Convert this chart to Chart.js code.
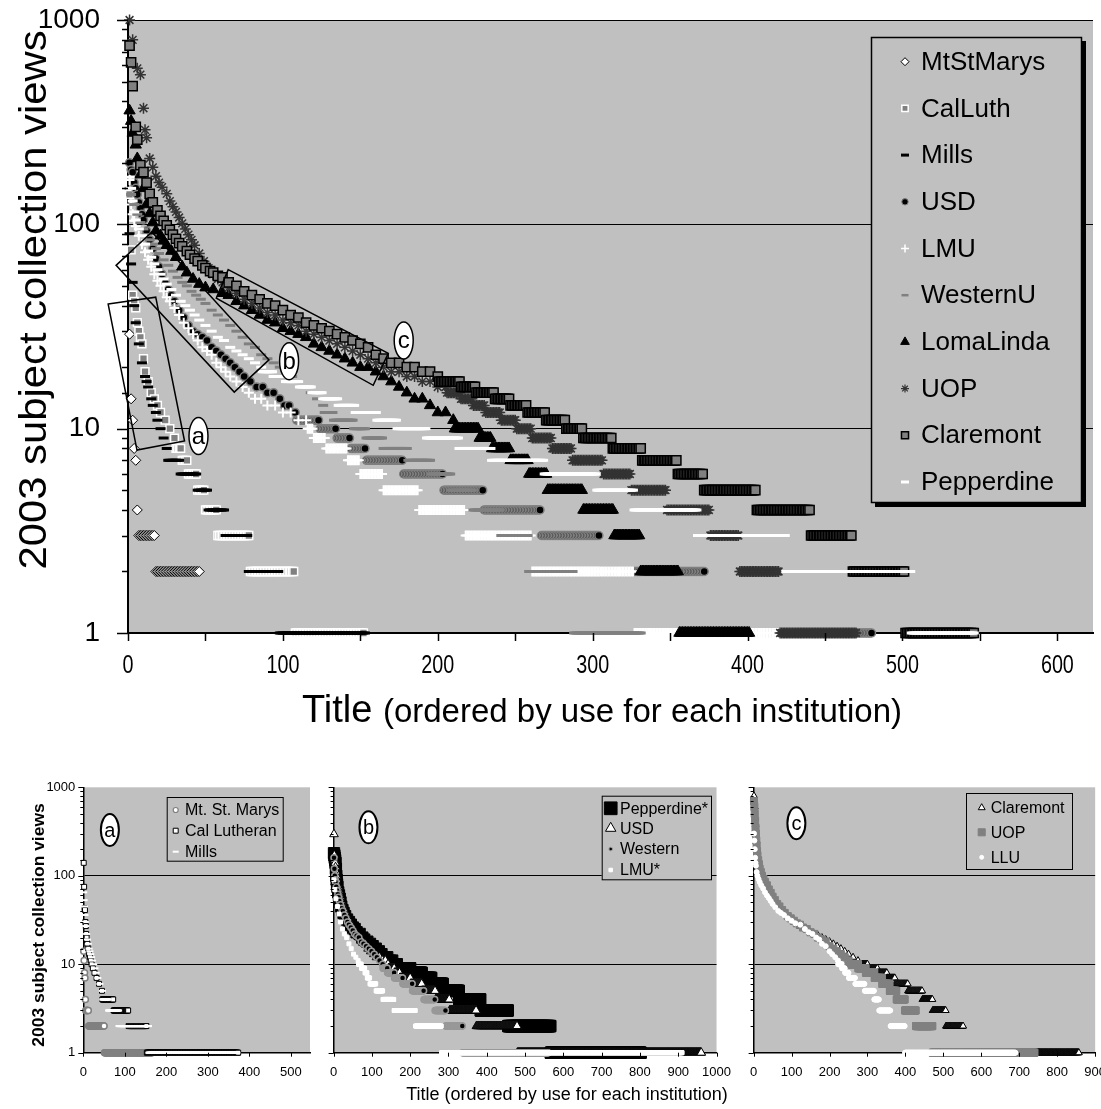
<!DOCTYPE html>
<html><head><meta charset="utf-8">
<script src="https://cdn.jsdelivr.net/npm/chart.js@4.4.1/dist/chart.umd.min.js"></script>
<style>
html,body{margin:0;padding:0;background:#fff;overflow:hidden;width:1101px;height:1109px;position:relative;}
canvas{position:absolute;}
</style></head><body>
<canvas id="main" width="1101" height="745" style="left:0;top:0"></canvas>
<canvas id="ca" width="320" height="349" style="left:0;top:760px"></canvas>
<canvas id="cb" width="425" height="349" style="left:318px;top:760px"></canvas>
<canvas id="cc" width="380" height="349" style="left:738px;top:760px"></canvas>
<script>
// ---------------- DATA (main chart) ----------------
// head: [rank, views] samples; runs: [views, last rank of that level]
const yTickLabels = [1, 10, 100, 1000];
const mainXLabels = [0, 100, 200, 300, 400, 500, 600];
const mainSeries = ['MtStMarys','CalLuth','Mills','USD','LMU','WesternU','LomaLinda','UOP','Claremont','Pepperdine'];

const mtStMarysHead = [[1,29],[2,14],[3,11],[4,8],[5,7],[6,4]];
const mtStMarysRuns = [[3,17],[2,46]];
const calLuthHead = [[1,140],[2,75],[3,45],[4,42],[5,39],[6,33],[7,30],[8,28],[9,26],[10,22],[11,19],[13,17],[15,15],[17,14],[19,13],[21,12],[24,11],[27,10],[30,9]];
const calLuthRuns = [[8,34],[7,38],[6,44],[5,49],[4,57],[3,78],[2,107],[1,152]];
const millsHead = [[1,90],[2,64],[3,52],[4,40],[5,33],[7,26],[9,21],[11,18],[12,17],[13,16],[15,14],[16,13],[18,12],[19,11],[21,10],[23,9],[25,8]];
const millsRuns = [[7,33],[6,44],[5,51],[4,62],[3,77],[2,97],[1,153]];
const usdHead = [[1,200],[2,185],[3,180],[4,160],[5,150],[6,140],[7,128],[8,120],[9,112],[10,105],[12,93],[14,84],[16,76],[18,68],[20,62],[22,57],[24,52],[26,48],[28,45],[30,42],[33,38],[36,35],[39,32],[42,30],[45,29],[48,28],[51,27],[54,25],[57,24],[60,23],[63,22],[66,21],[69,20],[72,19],[75,18],[79,17],[83,16],[87,16],[90,15],[94,15],[98,14],[101,13],[104,13],[108,12]];
const usdRuns = [[11,123],[10,134],[9,143],[8,153],[7,177],[6,203],[5,229],[4,266],[3,304],[2,372],[1,480]];
const lmuHead = [[1,165],[2,125],[3,112],[4,104],[5,98],[7,88],[9,80],[11,73],[13,67],[15,62],[17,57],[19,53],[21,50],[23,47],[25,44],[27,42],[30,39],[33,36],[36,33],[39,31],[42,29],[45,27],[48,25],[51,24],[54,23],[57,21],[60,20],[63,19],[66,18],[70,17],[74,16],[78,15],[82,14],[86,14],[90,13],[95,13],[100,12],[105,12],[110,11],[115,11]];
const lmuRuns = [[10,119],[9,127],[8,141],[7,149],[6,164],[5,187],[4,217],[3,260],[2,326],[1,421]];
const westernHead = [[1,150],[2,140],[4,125],[6,112],[8,102],[10,95],[12,89],[14,84],[16,80],[18,76],[20,72],[23,67],[26,63],[29,59],[32,55],[35,52],[38,50],[41,47],[44,45],[47,43],[50,41],[54,38],[58,36],[62,34],[66,32],[70,30],[74,28],[78,26],[82,25],[86,23],[90,22],[94,21],[98,20],[102,19],[106,18],[110,17],[114,16],[118,15],[122,14],[126,13]];
const westernRuns = [[12,132],[11,145],[10,153],[9,164],[8,180],[7,195],[6,208],[5,222],[4,240],[3,258],[2,287],[1,331]];
const lomaHead = [[1,360],[2,320],[3,280],[5,245],[6,210],[8,175],[10,150],[12,125],[14,113],[16,102],[18,93],[21,88],[23,83],[25,79],[28,74],[31,69],[35,62],[38,58],[42,54],[46,51],[50,49],[55,48],[61,46],[65,45],[70,42],[75,40],[80,38],[85,36],[90,34],[95,33],[100,31],[105,30],[110,29],[115,28],[120,26],[125,25],[130,24],[135,23],[140,22],[145,21],[150,20],[155,20],[160,19],[165,18],[170,17],[175,16],[180,15],[185,14],[190,14],[195,13],[200,12],[205,12],[210,11]];
const lomaRuns = [[10,226],[9,234],[8,246],[7,258],[6,270],[5,293],[4,313],[3,330],[2,355],[1,401]];
const uopHead = [[1,1000],[3,800],[6,580],[8,540],[10,370],[11,290],[12,265],[14,210],[16,190],[18,172],[20,160],[22,152],[25,141],[27,130],[29,122],[31,115],[33,108],[35,101],[37,95],[39,89],[41,84],[43,79],[46,72],[49,66],[52,61],[55,57],[58,54],[61,52],[65,49],[70,46],[75,43],[80,41],[85,39],[90,37],[95,36],[100,34],[105,33],[110,32],[115,30],[120,29],[125,28],[130,27],[135,26],[140,25],[145,24],[150,23],[155,22],[160,21],[165,20],[170,19],[175,19],[180,18],[185,18],[190,17],[195,17],[200,16],[205,16]];
const uopRuns = [[15,214],[14,222],[13,230],[12,240],[11,250],[10,260],[9,273],[8,286],[7,306],[6,324],[5,347],[4,375],[3,394],[2,420],[1,470]];
const claremontHead = [[1,750],[2,620],[3,475],[5,300],[6,260],[8,195],[10,180],[12,160],[14,141],[16,128],[19,117],[21,110],[23,104],[25,99],[27,94],[29,89],[31,85],[33,81],[35,78],[38,74],[40,71],[43,68],[45,66],[48,63],[50,61],[53,59],[55,58],[58,56],[61,55],[65,52],[70,50],[75,47],[80,45],[85,43],[90,41],[95,40],[100,38],[105,36],[110,35],[115,33],[120,32],[125,31],[130,30],[135,29],[140,28],[145,27],[150,26],[155,25],[160,23],[165,22],[170,21],[175,21],[180,20],[185,20],[190,19],[195,19],[200,18]];
const claremontRuns = [[17,214],[16,224],[15,236],[14,246],[13,257],[12,269],[11,282],[10,293],[9,312],[8,331],[7,354],[6,371],[5,405],[4,440],[3,467],[2,501],[1,546]];
const pepperdineHead = [[1,170],[2,150],[3,130],[4,115],[5,105],[7,95],[9,88],[11,80],[13,74],[15,69],[17,64],[19,60],[21,57],[23,54],[25,51],[28,48],[31,45],[34,42],[37,40],[40,38],[43,36],[46,34],[50,32],[54,30],[58,28],[62,27],[66,25],[70,24],[74,23],[78,22],[82,21],[86,20]];
const pepperdineRuns = [[19,93],[18,101],[17,110],[16,118],[15,125],[14,135],[13,146],[12,160],[11,173],[10,192],[9,213],[8,234],[7,268],[6,302],[5,326],[4,367],[3,424],[2,505],[1,546]];

// annotation boxes / ellipses in data space [rank, views]
const annotBoxA = [[-12.8,40.7],[17.9,44],[36.5,8.7],[5.8,7.86]];
const annotBoxB = [[-7.7,63],[15.4,91.7],[91,21.7],[68.6,15.1]];
const annotBoxC = [[64.7,60],[168,23.4],[158.3,16.3],[57,43.5]];
const annotLabels = [['a',45.5,9.2],['b',104,21.4],['c',178,27]];

// ---------------- DATA (small charts) ----------------
const subXLabelsA = [0,100,200,300,400,500];
const subXLabelsB = [0,100,200,300,400,500,600,700,800,900,1000];
const subXLabelsC = [0,100,200,300,400,500,600,700,800,900];
const subSeriesA = ['Mt. St. Marys','Cal Lutheran','Mills'];
const subSeriesB = ['Pepperdine*','USD','Western','LMU*'];
const subSeriesC = ['Claremont','UOP','LLU'];

const aMtHead = [[1,14],[2,11],[3,8],[4,7],[5,4]];
const aMtRuns = [[3,12],[2,50],[1,165]];
const aCalHead = [[1,140],[2,75],[3,43],[4,41],[5,30],[6,27],[7,22],[8,20],[9,18],[10,17],[12,15],[14,13],[16,12],[18,11],[20,10],[23,9],[27,8],[32,7],[38,6],[45,5]];
const aCalRuns = [[4,72],[3,108],[2,152],[1,373]];
const aMillsHead = [[1,65],[2,53],[3,45],[4,36],[5,30],[6,27],[8,22],[10,19],[12,17],[14,15],[16,14],[18,13],[20,12],[22,11],[25,10],[28,9],[31,8],[35,7],[40,6],[46,5]];
const aMillsRuns = [[4,60],[3,85],[2,157],[1,370]];

const bPepHead = [[1,180],[2,170],[3,160],[4,150],[5,140],[6,120],[7,100],[8,90],[9,80],[10,75],[12,65],[14,60],[16,55],[18,50],[20,45],[23,41],[26,38],[30,35],[35,32],[40,30],[45,28],[50,26],[55,25],[60,23],[68,22],[75,20],[80,19],[88,18],[95,17],[102,16],[110,15],[118,14],[125,13],[133,12],[140,12],[147,11],[153,11]];
const bPepRuns = [[10,165],[9,200],[8,230],[7,255],[6,285],[5,327],[4,383],[3,455],[2,566],[1,802]];
const bUsdHead = [[1,295],[2,170],[3,150],[4,140],[5,125],[6,110],[7,100],[8,90],[10,80],[12,75],[14,68],[16,62],[18,57],[20,52],[23,47],[26,43],[30,39],[34,35],[38,32],[42,30],[47,27],[52,25],[57,23],[62,21],[68,20],[75,18],[82,17],[90,15],[97,14],[105,13],[112,12],[120,12],[128,11],[135,11],[142,10]];
const bUsdRuns = [[9,158],[8,172],[7,200],[6,230],[5,265],[4,302],[3,372],[2,479],[1,960]];
const bWesHead = [[1,160],[2,120],[3,100],[4,90],[5,85],[7,75],[9,68],[11,62],[13,57],[15,52],[18,47],[21,43],[24,40],[28,36],[32,33],[36,30],[40,28],[45,26],[50,24],[55,22],[60,21],[66,20],[72,18],[78,17],[85,16],[92,15],[99,14],[106,13],[113,12],[120,11],[128,10]];
const bWesRuns = [[9,140],[8,158],[7,180],[6,205],[5,235],[4,264],[3,292],[2,336],[1,560]];
const bLmuHead = [[1,90],[3,70],[6,55],[10,45],[14,37],[18,30],[23,25],[28,22],[34,20],[40,17],[46,15],[52,13],[58,12],[64,11]];
const bLmuRuns = [[10,72],[9,81],[8,87],[7,94],[6,110],[5,128],[4,157],[3,213],[2,281],[1,910]];

const cClaHead = [[1,800],[2,700],[3,600],[4,450],[5,380],[6,300],[7,250],[8,200],[9,170],[10,150],[12,125],[14,110],[17,100],[20,92],[24,85],[28,79],[33,73],[38,68],[44,62],[50,56],[56,51],[62,47],[68,44],[74,41],[82,38],[90,35],[98,32],[106,30],[114,29],[122,27],[130,26],[140,25],[150,23],[160,22],[170,21],[180,20],[190,19],[200,18],[210,17],[220,16],[230,15],[240,14],[250,13],[262,12],[275,11]];
const cClaRuns = [[10,300],[9,326],[8,351],[7,372],[6,406],[5,444],[4,471],[3,506],[2,552],[1,857]];
const cUopHead = [[1,700],[2,600],[3,500],[4,420],[5,350],[6,300],[7,250],[8,220],[9,190],[10,170],[12,150],[14,135],[16,120],[19,110],[22,100],[26,92],[30,85],[35,78],[40,70],[45,64],[50,58],[56,53],[62,48],[68,45],[75,41],[82,38],[90,35],[98,33],[106,31],[114,29],[122,28],[130,26],[140,25],[150,23],[160,22],[170,20],[180,19],[190,18],[200,16],[210,15],[220,14],[230,13],[240,12],[250,11]];
const cUopRuns = [[10,275],[9,295],[8,318],[7,338],[6,358],[5,376],[4,398],[3,427],[2,471],[1,740]];
const cLluHead = [[1,300],[2,250],[3,200],[4,160],[5,140],[6,130],[8,110],[10,100],[13,92],[16,85],[20,78],[25,72],[30,65],[35,60],[40,56],[45,52],[50,48],[57,44],[65,40],[72,38],[80,36],[90,33],[100,31],[110,29],[123,28],[135,25],[145,23],[155,22],[165,20],[173,19],[180,17],[190,16],[200,14],[207,13],[215,12],[222,11]];
const cLluRuns = [[10,232],[9,240],[8,250],[7,267],[6,292],[5,317],[4,330],[3,360],[2,398],[1,690]];
const subLabelAnnots = [['a',64,329],['b',91,353],['c',112.7,392]];

// ---------------- helpers ----------------
const FONT = '"Liberation Sans", Arial, Helvetica, sans-serif';
const BG = '#c0c0c0';

function expand(head, runs) {
  const pts = []; let last = 0;
  head.forEach(([r, v]) => { pts.push({x: r, y: v}); last = r; });
  runs.forEach(([v, end]) => { for (let r = last + 1; r <= end; r++) pts.push({x: r, y: v}); last = end; });
  return pts;
}
function isPow10(v) { const l = Math.log10(v); return Math.abs(l - Math.round(l)) < 1e-9; }

function ds(label, head, runs, st, i) {
  return {label, data: expand(head, runs), clip: false, showLine: false, order: -i,
    pointStyle: st.s, pointRadius: st.r, pointBackgroundColor: st.f || 'rgba(0,0,0,0)',
    pointBorderColor: st.c, pointBorderWidth: st.w, pointHoverRadius: st.r};
}

function drawMarker(ctx, st, x, y, r) {
  ctx.save(); ctx.beginPath(); ctx.lineWidth = st.w;
  const s = st.s;
  if (s === 'circle') ctx.arc(x, y, r, 0, Math.PI * 2);
  else if (s === 'rect') { const h = r * Math.SQRT1_2; ctx.rect(x - h, y - h, 2 * h, 2 * h); }
  else if (s === 'rectRot') { ctx.moveTo(x - r, y); ctx.lineTo(x, y - r); ctx.lineTo(x + r, y); ctx.lineTo(x, y + r); ctx.closePath(); }
  else if (s === 'triangle') { let a = 0; ctx.moveTo(x + Math.sin(a) * r, y - Math.cos(a) * r); a += 2 * Math.PI / 3; ctx.lineTo(x + Math.sin(a) * r, y - Math.cos(a) * r); a += 2 * Math.PI / 3; ctx.lineTo(x + Math.sin(a) * r, y - Math.cos(a) * r); ctx.closePath(); }
  else if (s === 'line') { ctx.moveTo(x - r, y); ctx.lineTo(x + r, y); }
  else if (s === 'cross') { ctx.moveTo(x - r, y); ctx.lineTo(x + r, y); ctx.moveTo(x, y - r); ctx.lineTo(x, y + r); }
  else if (s === 'star') { const o = r * Math.SQRT1_2; ctx.moveTo(x - r, y); ctx.lineTo(x + r, y); ctx.moveTo(x, y - r); ctx.lineTo(x, y + r); ctx.moveTo(x - o, y - o); ctx.lineTo(x + o, y + o); ctx.moveTo(x - o, y + o); ctx.lineTo(x + o, y - o); }
  if (st.f) { ctx.fillStyle = st.f; ctx.fill(); }
  if (st.c && st.w > 0) { ctx.strokeStyle = st.c; ctx.stroke(); }
  ctx.restore();
}

function makeDeco(cfg) {
  return {
    id: 'deco',
    beforeDraw(chart) {
      const {ctx, chartArea: a} = chart;
      ctx.save(); ctx.fillStyle = BG; ctx.fillRect(a.left, a.top, a.right - a.left, a.bottom - a.top); ctx.restore();
    },
    afterDatasetsDraw(chart) { if (cfg.annot) cfg.annot(chart); },
    afterDraw(chart) {
      const {ctx, chartArea: a, scales: {x, y}} = chart;
      ctx.save(); ctx.strokeStyle = '#000'; ctx.lineWidth = cfg.tickW;
      y.ticks.forEach(t => {
        const py = Math.round(y.getPixelForValue(t.value)) + 0.5;
        const len = isPow10(t.value) ? cfg.yMajor : cfg.yMinor;
        ctx.beginPath(); ctx.moveTo(a.left - len, py); ctx.lineTo(a.left, py); ctx.stroke();
      });
      for (let v = 0; v <= x.max + 1e-9; v += cfg.xStep) {
        const px = Math.round(x.getPixelForValue(v)) + 0.5;
        ctx.beginPath(); ctx.moveTo(px, a.bottom); ctx.lineTo(px, a.bottom + cfg.xLen); ctx.stroke();
      }
      ctx.restore();
      if (cfg.after) cfg.after(chart);
    }
  };
}

function makeChart(id, datasets, o) {
  return new Chart(document.getElementById(id), {
    type: 'scatter',
    data: {datasets},
    options: {
      responsive: false, animation: false, events: [], devicePixelRatio: 1,
      layout: {padding: {top: o.padTop, right: o.padRight, left: 0, bottom: 0}},
      plugins: {legend: {display: false}, tooltip: {enabled: false}},
      scales: {
        x: {type: 'linear', min: 0, max: o.xMax,
          afterFit: s => { s.height = o.xHeight; },
          ticks: {display: !o.customX, stepSize: o.xStep, includeBounds: false, autoSkip: false, maxRotation: 0, minRotation: 0,
            padding: o.xPad, color: '#000', font: {family: FONT, size: o.xSize},
            callback: v => o.xLabels.includes(v) ? String(v) : ''},
          grid: {display: true, drawOnChartArea: false, drawTicks: false},
          border: {display: true, color: '#000', width: o.axisW}},
        y: {type: 'logarithmic', min: 1, max: 1000,
          afterFit: s => { s.width = o.yWidth; s.paddingTop = 0; s.paddingBottom = 0; },
          ticks: {display: o.yLabels, autoSkip: false, padding: o.yPad, color: '#000', font: {family: FONT, size: o.ySize},
            callback: v => yTickLabels.includes(v) ? String(v) : ''},
          grid: {drawTicks: false, lineWidth: 1, color: c => (c.tick && isPow10(c.tick.value) && c.tick.value > 1 && (o.topLine || c.tick.value < 1000)) ? '#000' : 'rgba(0,0,0,0)'},
          border: {display: true, color: '#000', width: o.axisW}}
      }
    },
    plugins: [makeDeco(o.deco)]
  });
}

function ellipseLabel(ctx, t, px, py, rx, ry, size, lw) {
  ctx.save(); ctx.beginPath(); ctx.ellipse(px, py, rx, ry, 0, 0, Math.PI * 2);
  ctx.fillStyle = '#fff'; ctx.fill(); ctx.lineWidth = lw; ctx.strokeStyle = '#000'; ctx.stroke();
  ctx.fillStyle = '#000'; ctx.font = size + 'px ' + FONT; ctx.textAlign = 'center'; ctx.textBaseline = 'middle';
  ctx.fillText(t, px, py + 1); ctx.restore();
}
// vertical (rotated) title: baseline at bx, centred at cy, stretched along its length
function vTitle(ctx, str, bx, cy, font, stretch) {
  ctx.save(); ctx.translate(bx, cy); ctx.rotate(-Math.PI / 2); ctx.scale(stretch, 1);
  ctx.font = font; ctx.textAlign = 'center'; ctx.textBaseline = 'alphabetic'; ctx.fillStyle = '#000';
  ctx.fillText(str, 0, 0); ctx.restore();
}

// ---------------- main chart ----------------
const mainStyles = [
  {s:'rectRot', r:5, f:'#fff', c:'#000', w:1},
  {s:'rect', r:5.5, f:'#808080', c:'#fff', w:1.5},
  {s:'line', r:5, c:'#000', w:3},
  {s:'circle', r:4, f:'#000', c:'#808080', w:1.5},
  {s:'cross', r:5, c:'#fff', w:2},
  {s:'line', r:5, c:'#808080', w:3},
  {s:'triangle', r:6.5, f:'#000', c:'#000', w:1},
  {s:'star', r:5.5, c:'#333', w:1.5},
  {s:'rect', r:6.5, f:'#808080', c:'#000', w:1.5},
  {s:'line', r:5, c:'#fff', w:3}
];
const legendStyles = [
  {s:'rectRot', r:4, f:'#fff', c:'#000', w:1},
  {s:'rect', r:4.5, f:'#808080', c:'#fff', w:1.5},
  {s:'line', r:4, c:'#000', w:3},
  {s:'circle', r:3.2, f:'#000', c:'#808080', w:1},
  {s:'cross', r:4, c:'#fff', w:1.5},
  {s:'line', r:3.5, c:'#808080', w:2.5},
  {s:'triangle', r:5, f:'#000', c:'#000', w:1},
  {s:'star', r:4, c:'#333', w:1.2},
  {s:'rect', r:5, f:'#808080', c:'#000', w:1.5},
  {s:'line', r:4, c:'#fff', w:3}
];
const mainHeads = [mtStMarysHead, calLuthHead, millsHead, usdHead, lmuHead, westernHead, lomaHead, uopHead, claremontHead, pepperdineHead];
const mainRuns = [mtStMarysRuns, calLuthRuns, millsRuns, usdRuns, lmuRuns, westernRuns, lomaRuns, uopRuns, claremontRuns, pepperdineRuns];
const mainDatasets = mainSeries.map((n, i) => ds(n, mainHeads[i], mainRuns[i], mainStyles[i], i));

makeChart('main', mainDatasets, {
  xMax: 623, xStep: 50, xLabels: mainXLabels, xHeight: 112, xPad: 21, xSize: 25, customX: true,
  yWidth: 128, yPad: 28, ySize: 28, yLabels: true, padTop: 20, padRight: 0, axisW: 2, topLine: true,
  deco: {
    tickW: 1.5, yMajor: 11, yMinor: 6, xStep: 50, xLen: 8,
    annot(chart) {
      const {ctx, scales: {x, y}} = chart;
      const P = p => [x.getPixelForValue(p[0]), y.getPixelForValue(p[1])];
      ctx.save(); ctx.strokeStyle = '#000'; ctx.lineWidth = 1.5;
      [annotBoxA, annotBoxB, annotBoxC].forEach(poly => {
        ctx.beginPath();
        poly.forEach((p, i) => { const [px, py] = P(p); i ? ctx.lineTo(px, py) : ctx.moveTo(px, py); });
        ctx.closePath(); ctx.stroke();
      });
      ctx.restore();
      annotLabels.forEach(([t, r, v]) => { const [px, py] = P([r, v]); ellipseLabel(ctx, t, px, py, 9.5, 18.5, 24, 1.5); });
    },
    after(chart) {
      const ctx = chart.ctx;
      const xs = chart.scales.x;
      ctx.save();
      // x tick labels (condensed, as in the original)
      ctx.fillStyle = '#000'; ctx.font = '26px ' + FONT; ctx.textAlign = 'center'; ctx.textBaseline = 'middle';
      mainXLabels.forEach(v => {
        ctx.save(); ctx.translate(xs.getPixelForValue(v), 666); ctx.scale(0.76, 1);
        ctx.fillText(String(v), 0, 0); ctx.restore();
      });
      // legend
      ctx.fillStyle = '#000'; ctx.fillRect(875, 41, 211, 466);
      ctx.fillStyle = BG; ctx.fillRect(871, 37, 210, 465);
      ctx.strokeStyle = '#000'; ctx.lineWidth = 1.5; ctx.strokeRect(871.5, 37.5, 210, 465);
      ctx.font = '26px ' + FONT; ctx.textBaseline = 'middle'; ctx.textAlign = 'left'; ctx.fillStyle = '#000';
      mainSeries.forEach((n, i) => {
        const yy = 61.7 + 46.7 * i;
        drawMarker(ctx, legendStyles[i], 905, yy, legendStyles[i].r);
        ctx.fillStyle = '#000'; ctx.fillText(n, 921, yy + 1);
      });
      // y title
      vTitle(ctx, '2003 subject collection views', 46, 300, '38px ' + FONT, 1.1);
      // x title
      ctx.font = '38px ' + FONT; const w1 = ctx.measureText('Title ').width;
      ctx.font = '33px ' + FONT; const w2 = ctx.measureText('(ordered by use for each institution)').width;
      const x0 = 602 - (w1 + w2) / 2;
      ctx.fillStyle = '#000'; ctx.textBaseline = 'alphabetic'; ctx.textAlign = 'left';
      ctx.font = '38px ' + FONT; ctx.fillText('Title', x0, 722);
      ctx.font = '33px ' + FONT; ctx.fillText('(ordered by use for each institution)', x0 + w1, 722);
      ctx.restore();
    }
  }
});

// ---------------- small charts ----------------
function subLegend(ctx, box, names, styles, ys, mx, tx) {
  ctx.save();
  ctx.fillStyle = BG; ctx.fillRect(box[0], box[1], box[2], box[3]);
  ctx.strokeStyle = '#000'; ctx.lineWidth = 1; ctx.strokeRect(box[0] + 0.5, box[1] + 0.5, box[2], box[3]);
  ctx.font = '16px ' + FONT; ctx.textBaseline = 'middle'; ctx.textAlign = 'left';
  names.forEach((n, i) => { drawMarker(ctx, styles[i], mx, ys[i], styles[i].r); ctx.fillStyle = '#000'; ctx.fillText(n, tx, ys[i] + 1); });
  ctx.restore();
}
function subAnnot(idx) {
  return chart => {
    const {ctx, scales: {x, y}} = chart;
    const [t, r, v] = subLabelAnnots[idx];
    ellipseLabel(ctx, t, x.getPixelForValue(r), y.getPixelForValue(v), 9, 16, 20, 2);
  };
}
const subBase = {xStep: 100, xHeight: 56.3, xPad: 12, xSize: 13, yPad: 8, ySize: 13, padTop: 27.3, axisW: 1.5, topLine: false};
const subDeco = {tickW: 1, yMajor: 5, yMinor: 3, xStep: 100, xLen: 4};

const aStyles = [{s:'circle', r:3, f:'#fff', c:'#808080', w:1.5}, {s:'rect', r:3.5, f:'#fff', c:'#000', w:1}, {s:'line', r:3.5, c:'#fff', w:2}];
const aLegStyles = [{s:'circle', r:2.5, f:'#fff', c:'#808080', w:1.2}, {s:'rect', r:3.5, f:'#fff', c:'#000', w:1}, {s:'line', r:3, c:'#fff', w:2}];
makeChart('ca', [
  ds(subSeriesA[0], aMtHead, aMtRuns, aStyles[0], 0),
  ds(subSeriesA[1], aCalHead, aCalRuns, aStyles[1], 1),
  ds(subSeriesA[2], aMillsHead, aMillsRuns, aStyles[2], 2)
], Object.assign({}, subBase, {xMax: 546, xLabels: subXLabelsA, yWidth: 83.3, yLabels: true, padRight: 10,
  deco: Object.assign({}, subDeco, {annot: subAnnot(0), after(chart) {
    const ctx = chart.ctx;
    subLegend(ctx, [166.7, 37, 116, 63.7], subSeriesA, aLegStyles, [50, 70.7, 91.7], 175.7, 185);
    vTitle(ctx, '2003 subject collection views', 44, 165, 'bold 16px ' + FONT, 1.09);
  }})
}));

const bStyles = [{s:'rect', r:8, f:'#000', c:'#000', w:1}, {s:'triangle', r:5, f:'#fff', c:'#000', w:1}, {s:'circle', r:3, f:'#000', c:'#999', w:1.5}, {s:'rect', r:2.8, f:'#fff', c:'#fff', w:1}];
const bLegStyles = [{s:'rect', r:9, f:'#000', c:'#000', w:1}, {s:'triangle', r:6, f:'#fff', c:'#000', w:1}, {s:'circle', r:1.8, f:'#000', c:'#999', w:1}, {s:'rect', r:2.5, f:'#fff', c:'#fff', w:1}];
makeChart('cb', [
  ds(subSeriesB[0], bPepHead, bPepRuns, bStyles[0], 0),
  ds(subSeriesB[1], bUsdHead, bUsdRuns, bStyles[1], 1),
  ds(subSeriesB[2], bWesHead, bWesRuns, bStyles[2], 2),
  ds(subSeriesB[3], bLmuHead, bLmuRuns, bStyles[3], 3)
], Object.assign({}, subBase, {xMax: 1000, xLabels: subXLabelsB, yWidth: 8.7, yLabels: false, padRight: 24.7,
  deco: Object.assign({}, subDeco, {annot: subAnnot(1), after(chart) {
    const ctx = chart.ctx;
    subLegend(ctx, [283.7, 35.7, 109.3, 83.6], subSeriesB, bLegStyles, [48.3, 68.3, 89, 110], 292.7, 302);
    ctx.save(); ctx.font = '18px ' + FONT; ctx.textAlign = 'center'; ctx.textBaseline = 'middle'; ctx.fillStyle = '#000';
    ctx.fillText('Title (ordered by use for each institution)', 567 - 318, 335); ctx.restore();
  }})
}));

const cStyles = [{s:'triangle', r:4, f:'#fff', c:'#000', w:1}, {s:'rect', r:5, f:'#808080', c:'#808080', w:1}, {s:'circle', r:2.5, f:'#fff', c:'#fff', w:1}];
const cLegStyles = [{s:'triangle', r:4, f:'#fff', c:'#000', w:1}, {s:'rect', r:5, f:'#808080', c:'#808080', w:1}, {s:'circle', r:2, f:'#fff', c:'#fff', w:1}];
makeChart('cc', [
  ds(subSeriesC[0], cClaHead, cClaRuns, cStyles[0], 0),
  ds(subSeriesC[1], cUopHead, cUopRuns, cStyles[1], 1),
  ds(subSeriesC[2], cLluHead, cLluRuns, cStyles[2], 2)
], Object.assign({}, subBase, {xMax: 900, xLabels: subXLabelsC, yWidth: 10.3, yLabels: false, padRight: 15.1,
  deco: Object.assign({}, subDeco, {annot: subAnnot(2), after(chart) {
    subLegend(chart.ctx, [228, 33, 106, 76], subSeriesC, cLegStyles, [47.7, 72.3, 97.3], 243.7, 252.7);
  }})
}));
</script>
</body></html>
